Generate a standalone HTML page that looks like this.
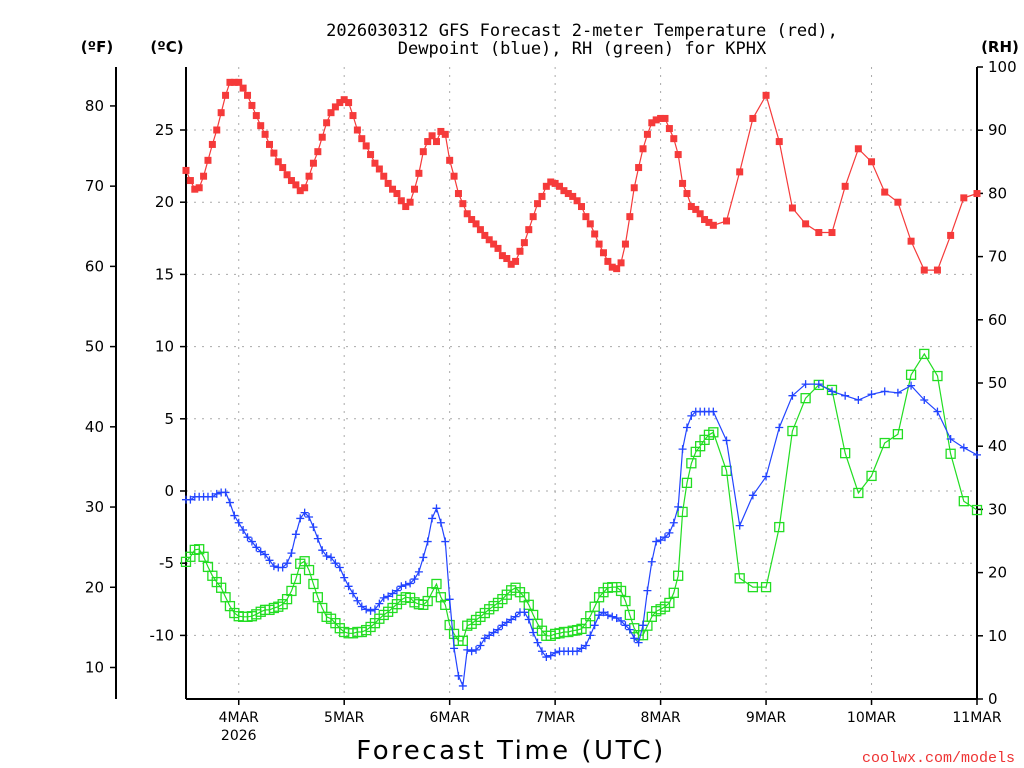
<!DOCTYPE html>
<html><head><meta charset="utf-8"><style>
html,body{margin:0;padding:0;background:#fff;}
svg{display:block;font-family:"DejaVu Sans","Liberation Sans",sans-serif;}
</style></head><body>
<svg id="chart" width="1024" height="768" viewBox="0 0 1024 768" xmlns="http://www.w3.org/2000/svg">
<g id="grid"></g>
<g id="axes"></g>
<g id="series"></g>
<text x="582" y="36" text-anchor="middle" font-size="17" font-family="DejaVu Sans Mono, monospace">2026030312 GFS Forecast 2-meter Temperature (red),</text>
<text x="582" y="54" text-anchor="middle" font-size="17" font-family="DejaVu Sans Mono, monospace">Dewpoint (blue), RH (green) for KPHX</text>
<text x="97" y="52" text-anchor="middle" font-size="15" font-weight="bold">(ºF)</text>
<text x="167" y="52" text-anchor="middle" font-size="15" font-weight="bold">(ºC)</text>
<text x="1000" y="52" text-anchor="middle" font-size="15" font-weight="bold">(RH)</text>
<text x="511" y="759" text-anchor="middle" font-size="26" letter-spacing="2.5">Forecast Time (UTC)</text>
<text x="1015" y="762" text-anchor="end" font-size="15" fill="#ee3333" font-family="Liberation Mono, monospace">coolwx.com/models</text>
</svg>
<script>
const tempC = [22.2,21.5,20.9,21.0,21.8,22.9,24.0,25.0,26.2,27.4,
28.3,28.3,28.3,27.9,27.4,26.7,26.0,25.3,24.7,24.0,
23.4,22.8,22.4,21.9,21.5,21.2,20.8,21.0,21.8,22.7,
23.5,24.5,25.5,26.2,26.6,26.9,27.1,26.9,26.0,25.0,
24.4,23.9,23.3,22.7,22.3,21.8,21.3,20.9,20.6,20.1,
19.7,20.0,20.9,22.0,23.5,24.2,24.6,24.2,24.9,24.7,
22.9,21.8,20.6,19.9,19.2,18.8,18.5,18.1,17.7,17.4,
17.1,16.8,16.3,16.1,15.7,15.9,16.6,17.2,18.1,19.0,
19.9,20.4,21.1,21.4,21.3,21.1,20.8,20.6,20.4,20.1,
19.7,19.0,18.5,17.8,17.1,16.5,15.9,15.5,15.4,15.8,
17.1,19.0,21.0,22.4,23.7,24.7,25.5,25.7,25.8,25.8,
25.1,24.4,23.3,21.3,20.6,19.7,19.5,19.2,18.8,18.6,18.4,
18.7,22.1,25.8,27.4,24.2,19.6,18.5,17.9,17.9,21.1,
23.7,22.8,20.7,20.0,17.3,15.3,15.3,17.7,20.3,20.6];
const dewC = [-0.6,-0.6,-0.4,-0.4,-0.4,-0.4,-0.4,-0.2,-0.1,-0.1,
-0.8,-1.7,-2.2,-2.7,-3.2,-3.5,-3.9,-4.2,-4.4,-4.8,
-5.2,-5.3,-5.3,-5.0,-4.3,-3.0,-1.9,-1.5,-1.8,-2.5,
-3.3,-4.1,-4.5,-4.6,-5.0,-5.3,-6.0,-6.6,-7.1,-7.6,
-8.0,-8.2,-8.3,-8.2,-7.8,-7.4,-7.3,-7.1,-6.9,-6.6,
-6.5,-6.4,-6.1,-5.6,-4.6,-3.5,-1.9,-1.2,-2.2,-3.5,
-7.5,-10.9,-12.8,-13.5,-11.0,-11.1,-11.0,-10.7,-10.2,-10.0,
-9.8,-9.6,-9.3,-9.1,-8.9,-8.7,-8.4,-8.4,-8.9,-9.8,
-10.5,-11.1,-11.5,-11.4,-11.2,-11.1,-11.1,-11.1,-11.1,-11.1,
-10.9,-10.7,-10.0,-9.3,-8.6,-8.4,-8.6,-8.7,-8.8,-9.0,
-9.3,-9.6,-10.2,-10.5,-9.3,-6.9,-4.9,-3.5,-3.4,-3.2,
-2.9,-2.2,-1.1,2.9,4.4,5.2,5.5,5.5,5.5,5.5,5.5,
3.5,-2.4,-0.3,1.0,4.4,6.6,7.4,7.4,6.9,6.6,
6.3,6.7,6.9,6.8,7.3,6.3,5.5,3.6,3.0,2.5];
const rhPct = [21.7,22.5,23.6,23.7,22.5,20.9,19.5,18.5,17.6,16.1,
14.7,13.6,13.1,13.0,13.0,13.1,13.4,13.8,14.1,14.1,
14.4,14.6,15.0,15.8,17.1,19.0,21.4,21.8,20.4,18.2,
16.1,14.4,13.0,12.7,12.0,11.2,10.6,10.4,10.4,10.6,
10.6,10.9,11.4,12.0,12.7,13.3,13.8,14.4,15.0,15.7,
16.1,16.0,15.3,15.0,14.9,15.5,16.9,18.2,16.1,14.9,
11.7,10.3,9.2,9.2,11.6,11.9,12.5,13.0,13.6,14.2,
14.7,15.2,15.8,16.5,17.2,17.6,16.9,16.1,14.9,13.3,
11.9,10.8,10.0,10.0,10.3,10.4,10.6,10.6,10.8,10.9,
11.1,12.0,13.1,14.6,16.1,16.9,17.6,17.7,17.7,17.1,
15.5,13.3,11.2,10.1,10.1,11.6,13.0,13.9,14.2,14.6,
15.2,16.8,19.5,29.6,34.2,37.3,39.1,40.0,41.0,41.8,42.2,
36.1,19.1,17.7,17.7,27.2,42.4,47.6,49.7,48.9,38.9,
32.6,35.3,40.5,41.9,51.3,54.6,51.1,38.8,31.3,29.9];
const dayLabels = ["4MAR","5MAR","6MAR","7MAR","8MAR","9MAR","10MAR","11MAR"];
const cTicks = [-10,-5,0,5,10,15,20,25];
const fTicks = [10,20,30,40,50,60,70,80];
const rhTicks = [0,10,20,30,40,50,60,70,80,90,100];
const yearLabel = "2026";

const NS="http://www.w3.org/2000/svg";
const L=186,R=977,T=67,B=699;
const hours=[];for(let h=0;h<=120;h++)hours.push(h);for(let h=123;h<=180;h+=3)hours.push(h);
const xH=h=>L+(R-L)*h/180;
const yC=c=>491-c*14.44;
const yF=f=>yC((f-32)*5/9);
const yRH=r=>B-(B-T)*r/100;
function mk(tag,attrs,parent){const e=document.createElementNS(NS,tag);for(const k in attrs)e.setAttribute(k,attrs[k]);parent.appendChild(e);return e;}
const grid=document.getElementById('grid'),axes=document.getElementById('axes'),ser=document.getElementById('series');
dayLabels.forEach((d,i)=>{const x=xH(12+24*i);
 if(i<dayLabels.length-1){const g=mk('line',{x1:x,x2:x,y1:T,y2:B,stroke:'#aaa','stroke-dasharray':'2,6'},grid);
 }
 const t=mk('line',{x1:x,x2:x,y1:B,y2:B+6,stroke:'#000','stroke-width':1.5},axes);
 
 const lb=mk('text',{x:x,y:722,'text-anchor':'middle','font-size':14},axes);lb.textContent=d;
 
});
const yr=mk('text',{x:xH(12),y:740,'text-anchor':'middle','font-size':14},axes);yr.textContent=yearLabel;

cTicks.forEach(c=>{const y=yC(c);
 const g=mk('line',{x1:L,x2:R,y1:y,y2:y,stroke:'#aaa','stroke-dasharray':'2,6'},grid);
 
 const t=mk('line',{x1:L-6,x2:L,y1:y,y2:y,stroke:'#000','stroke-width':1.5},axes);
 
 const lb=mk('text',{x:174,y:y+5,'text-anchor':'end','font-size':15},axes);lb.textContent=c;
 
});
fTicks.forEach(f=>{const y=yF(f);
 const t=mk('line',{x1:110,x2:116,y1:y,y2:y,stroke:'#000','stroke-width':1.5},axes);
 
 const lb=mk('text',{x:104,y:y+5,'text-anchor':'end','font-size':15},axes);lb.textContent=f;
 
});
rhTicks.forEach(r=>{const y=yRH(r);
 const t=mk('line',{x1:R,x2:R+6,y1:y,y2:y,stroke:'#000','stroke-width':1.5},axes);
 
 const lb=mk('text',{x:988,y:y+5,'text-anchor':'start','font-size':15},axes);lb.textContent=r;
 
});
[[L,T,L,B,'left-axis-line'],[R,T,R,B,'right-axis-line'],[L,B,R,B,'x-axis-line'],[116,T,116,B,'fahrenheit-axis-line']].forEach(a=>{
 const l=mk('line',{x1:a[0],y1:a[1],x2:a[2],y2:a[3],stroke:'#000','stroke-width':2},axes);
 
});
function drawSeries(vals,yf,color,name,marker){
 const n=Math.min(vals.length,hours.length);
 const pts=[];for(let i=0;i<n;i++)pts.push(xH(hours[i]).toFixed(1)+','+yf(vals[i]).toFixed(1));
 const pl=mk('polyline',{points:pts.join(' '),fill:'none',stroke:color,'stroke-width':1.2},ser);
 
 for(let i=0;i<n;i++){const x=xH(hours[i]),y=yf(vals[i]);let m;
  if(marker==='filled')m=mk('rect',{x:x-3.5,y:y-3.5,width:7,height:7,fill:color},ser);
  else if(marker==='hollow')m=mk('rect',{x:x-4.5,y:y-4.5,width:9,height:9,fill:'none',stroke:color,'stroke-width':1.3},ser);
  else m=mk('path',{d:`M${x-4},${y}H${x+4}M${x},${y-4}V${y+4}`,stroke:color,'stroke-width':1.3},ser);
  }
}
drawSeries(rhPct,yRH,'#22dd22','rh','hollow');
drawSeries(dewC,yC,'#2244ff','dewpoint','plus');
drawSeries(tempC,yC,'#f53a3a','temperature','filled');
</script>
</body></html>
